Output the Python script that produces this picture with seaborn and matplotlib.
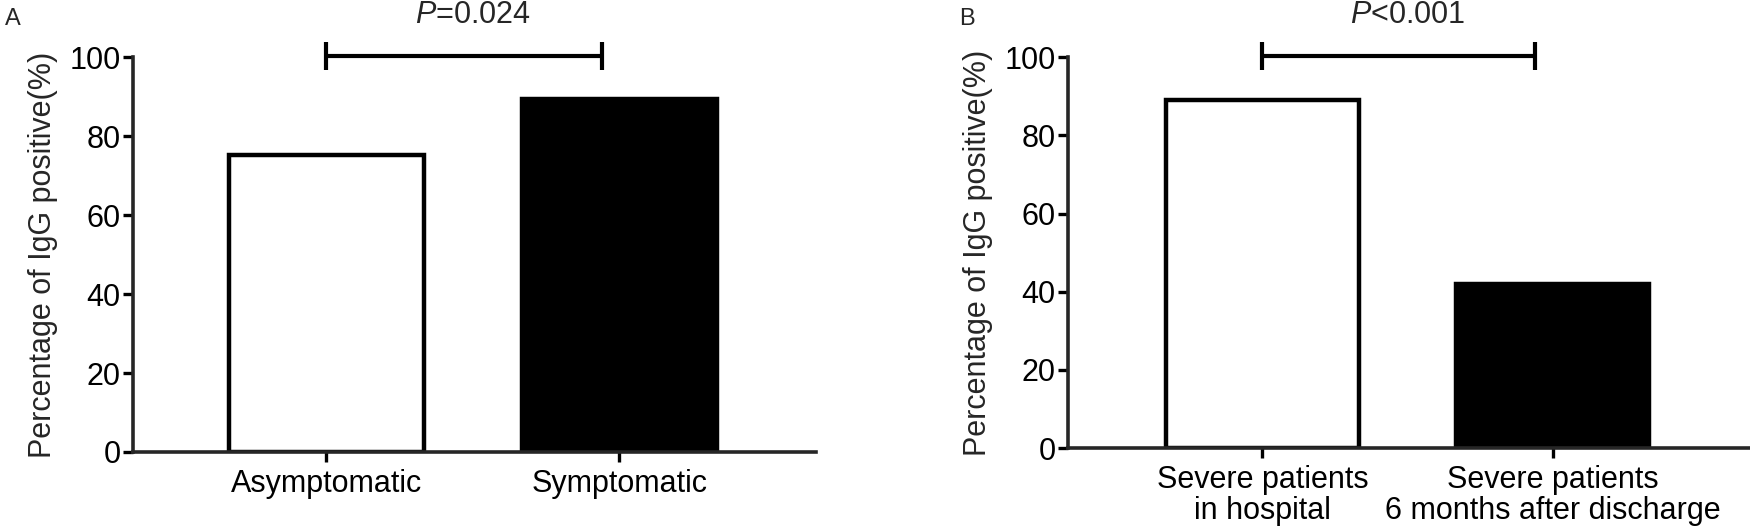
import matplotlib
matplotlib.use('Agg')
import matplotlib.pyplot as plt
import seaborn as sns
import pandas as pd

# values
groups_a = ['Asymptomatic', 'Symptomatic']
igg_a = [75.2, 89.5]
p_a = '=0.024'

groups_b = ['Severe patients\nin hospital', 'Severe patients\n6 months after discharge']
igg_b = [89.0, 41.9]
p_b = '<0.001'

sns.set_style('ticks')
plt.rcParams['font.family'] = ['Liberation Sans', 'DejaVu Sans']
plt.rcParams['mathtext.fontset'] = 'custom'
plt.rcParams['mathtext.it'] = 'Liberation Sans:italic'
plt.rcParams['mathtext.rm'] = 'Liberation Sans'

fig = plt.figure(figsize=(17.5, 5.31), dpi=100)
ax_a = fig.add_axes([0.076, 0.1488, 0.390, 0.743])
ax_b = fig.add_axes([0.6103, 0.1563, 0.3897, 0.736])


def panel(ax, groups, vals, ptxt, xlim):
    df = pd.DataFrame({'group': groups, 'val': vals})
    sns.barplot(data=df, x='group', y='val', hue='group', palette=['white', 'black'],
                edgecolor='black', linewidth=3.2, width=0.665, legend=False, ax=ax)
    ax.set_ylim(0, 100)
    ax.set_xlim(*xlim)
    ax.set_yticks([0, 20, 40, 60, 80, 100])
    sns.despine(ax=ax)
    for s in ['left', 'bottom']:
        ax.spines[s].set_linewidth(2.6)
    ax.tick_params(axis='both', width=2.4, length=7, labelsize=22, color='black', labelcolor='black')
    ax.tick_params(axis='y', pad=2)
    ax.tick_params(axis='x', pad=5)
    for lab in ax.get_xticklabels():
        lab.set_linespacing(1.05)
    ax.set_xlabel('')
    ax.set_ylabel('Percentage of IgG positive(%)', fontsize=22, labelpad=8)
    # significance bracket
    yb = 100.3
    ax.plot([0, 0.94], [yb, yb], color='black', lw=3, clip_on=False, solid_capstyle='butt')
    ax.plot([0, 0], [yb - 3.6, yb + 3.6], color='black', lw=3, clip_on=False, solid_capstyle='butt')
    ax.plot([0.94, 0.94], [yb - 3.6, yb + 3.6], color='black', lw=3, clip_on=False, solid_capstyle='butt')
    ax.text(0.5, 110.8, r'$\it{P}$' + ptxt, ha='center', va='center', fontsize=22, clip_on=False)


panel(ax_a, groups_a, igg_a, p_a, (-0.66, 1.67))
panel(ax_b, groups_b, igg_b, p_b, (-0.67, 1.68))

fig.text(0.003, 0.985, 'A', fontsize=17, va='top', ha='left')
fig.text(0.548, 0.985, 'B', fontsize=17, va='top', ha='left')

fig.savefig('out.png', dpi=100)
